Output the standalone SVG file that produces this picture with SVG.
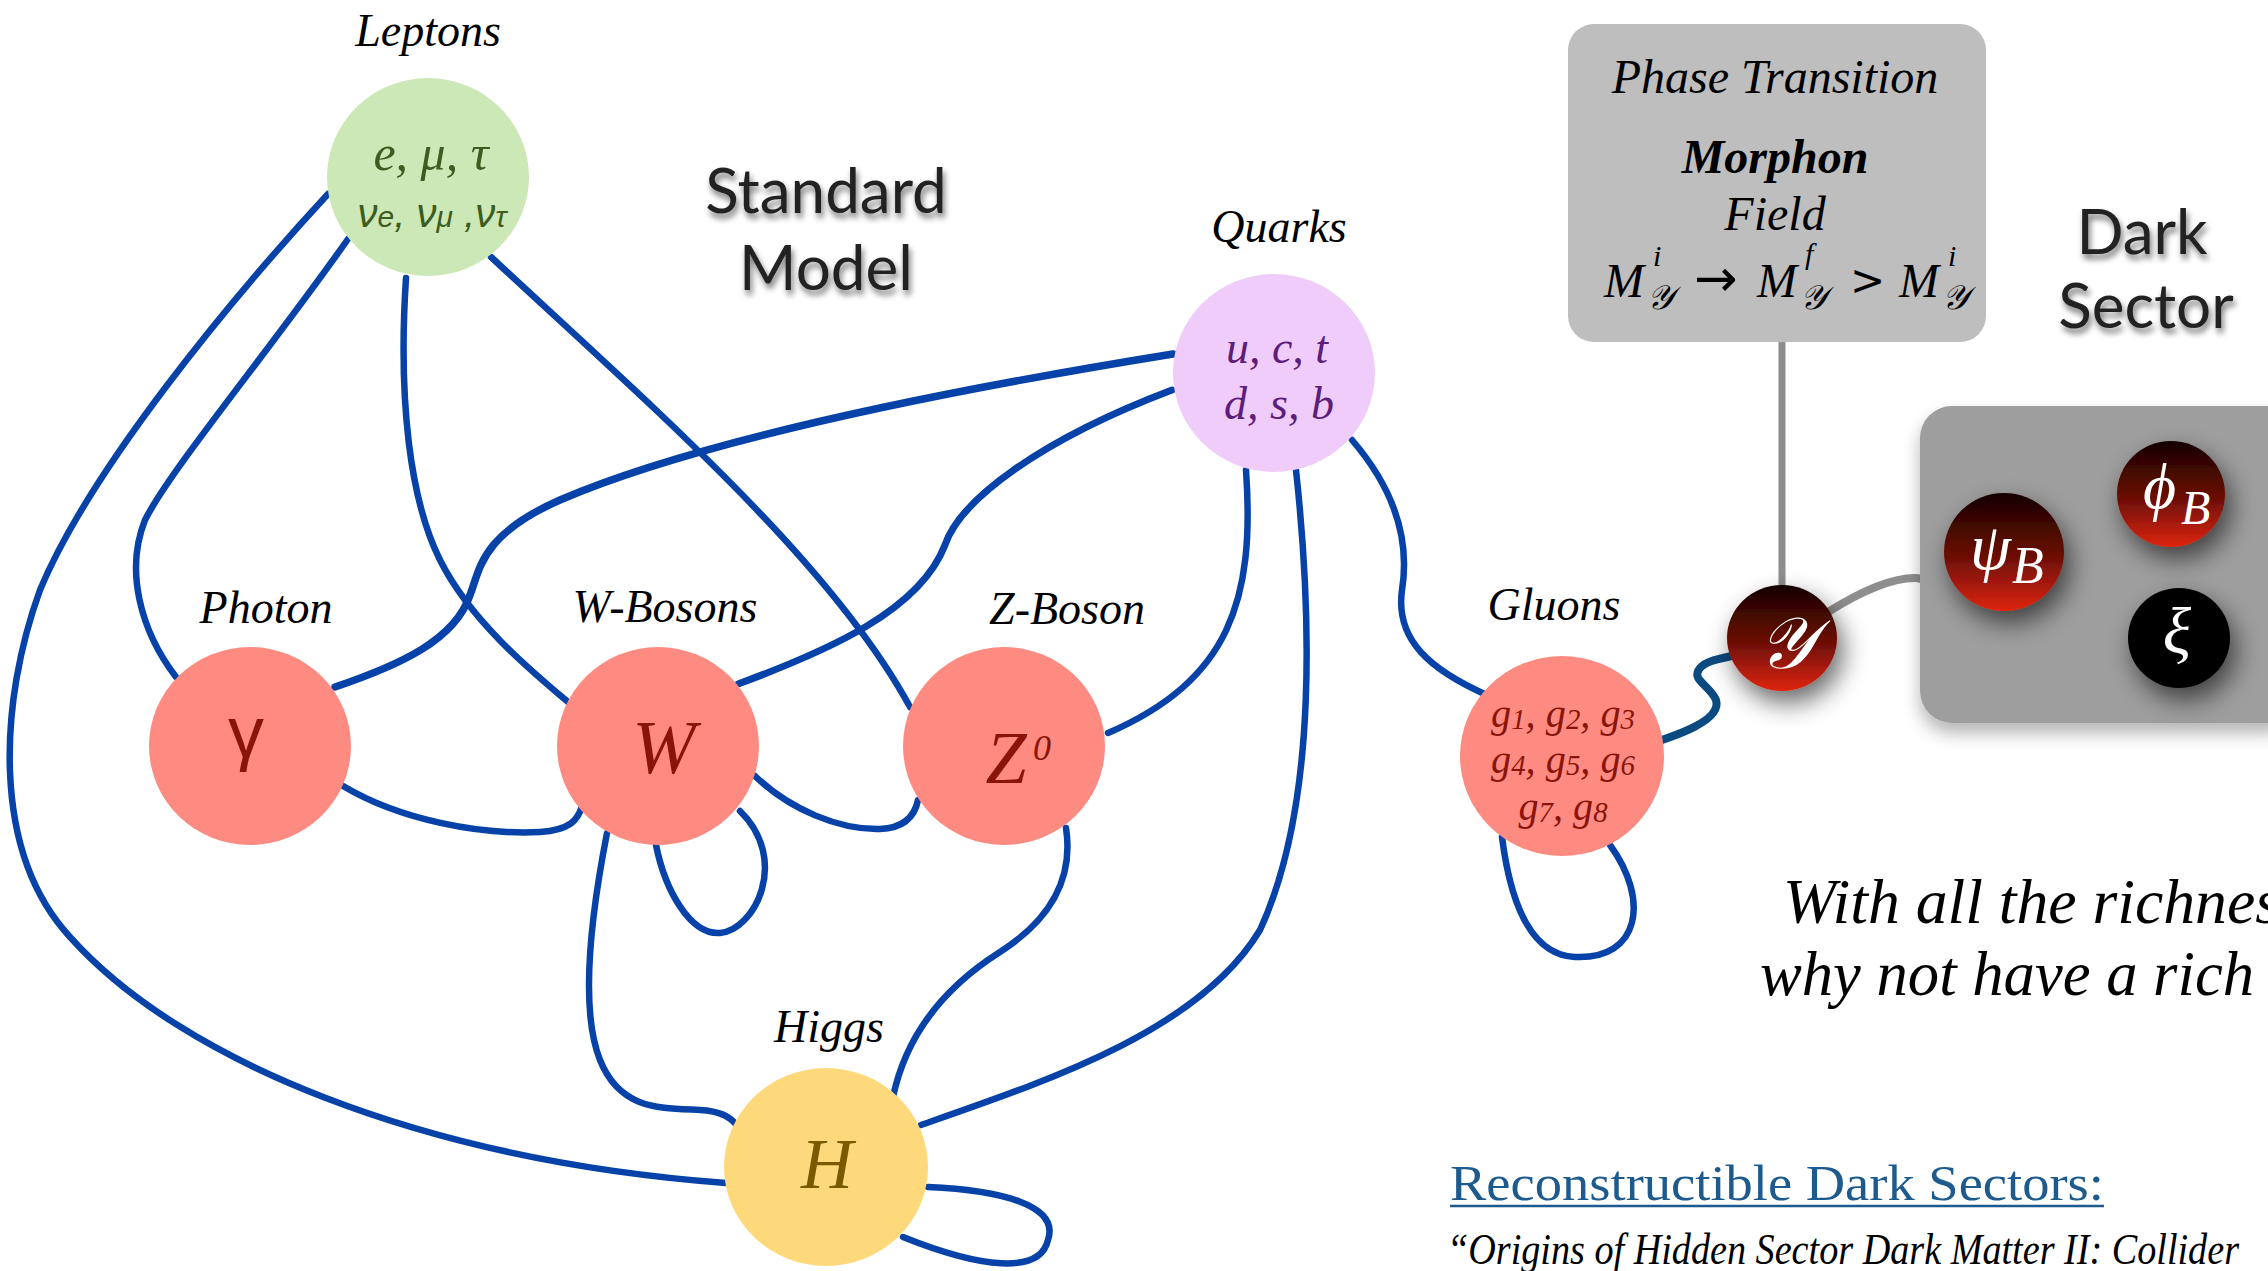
<svg xmlns="http://www.w3.org/2000/svg" width="2268" height="1271" viewBox="0 0 2268 1271">
  <style>
    .lbl { font-family: "Liberation Serif", serif; font-style: italic; font-size: 46px; fill: #000; text-anchor: middle; }
    .conn { fill: none; stroke: #0642a8; stroke-width: 6.5; stroke-linecap: round; stroke-linejoin: round; }
    .grey { fill: none; stroke: #8e8e8e; stroke-linecap: round; }
    .boson { fill: #fd8b82; }
    .bt { font-family: "Liberation Serif", serif; font-style: italic; fill: #8a140a; text-anchor: middle; }
    .title { font-family: Lato, "Open Sans", sans-serif; font-size: 62px; fill: #222; text-anchor: middle; filter: url(#tshadow); }
    .ph { font-family: "Liberation Serif", serif; font-style: italic; font-size: 48px; fill: #000; text-anchor: middle; }
    .mth { font-family: "Liberation Serif", "DejaVu Serif", serif; font-style: italic; fill: #000; }
    .op { font-family: "DejaVu Sans", sans-serif; font-style: normal; }
    .dk { font-family: "Liberation Serif", "DejaVu Serif", serif; font-style: italic; fill: #fff; }
    .note { font-family: "Liberation Serif", serif; font-style: italic; fill: #000; }
  </style>
  <defs>
    <linearGradient id="darkRed" x1="0" y1="0" x2="0" y2="1">
      <stop offset="0" stop-color="#140000"/>
      <stop offset="0.55" stop-color="#6e0f06"/>
      <stop offset="1" stop-color="#de2511"/>
    </linearGradient>
    <filter id="tshadow" x="-20%" y="-30%" width="140%" height="170%">
      <feGaussianBlur in="SourceAlpha" stdDeviation="3"/>
      <feOffset dx="2" dy="5" result="b"/>
      <feComponentTransfer><feFuncA type="linear" slope="0.55"/></feComponentTransfer>
      <feMerge><feMergeNode/><feMergeNode in="SourceGraphic"/></feMerge>
    </filter>
    <filter id="nshadow" x="-60%" y="-60%" width="220%" height="220%">
      <feGaussianBlur in="SourceAlpha" stdDeviation="13"/>
      <feOffset dx="6" dy="12" result="b"/>
      <feComponentTransfer><feFuncA type="linear" slope="0.6"/></feComponentTransfer>
      <feMerge><feMergeNode/><feMergeNode in="SourceGraphic"/></feMerge>
    </filter>
    <filter id="bshadow" x="-10%" y="-10%" width="120%" height="130%">
      <feGaussianBlur in="SourceAlpha" stdDeviation="9"/>
      <feOffset dx="0" dy="10" result="b"/>
      <feComponentTransfer><feFuncA type="linear" slope="0.3"/></feComponentTransfer>
      <feMerge><feMergeNode/><feMergeNode in="SourceGraphic"/></feMerge>
    </filter>
  </defs>

  <rect width="2268" height="1271" fill="#fff"/>

  <!-- section titles -->
  <text class="title" x="826" y="213">Standard</text>
  <text class="title" x="826" y="290">Model</text>
  <text class="title" x="2142" y="254">Dark</text>
  <text class="title" x="2146" y="328">Sector</text>

  <!-- connectors -->
  <g id="connectors">
    <path class="conn" d="M328,194 C230,300 90,470 40,590 C0,700 -10,850 70,937 C180,1060 420,1160 726,1183"/>
    <path class="conn" d="M348,239 C270,350 170,470 145,520 C125,570 140,630 176,677"/>
    <path class="conn" d="M406,278 C398,400 410,500 440,560 C470,620 530,670 568,702"/>
    <path class="conn" d="M491,257 C650,405 830,560 910,707"/>
    <path class="conn" style="stroke-width:7.5" d="M1173,354 C950,390 700,440 560,500 C480,535 480,570 470,595 C455,640 400,665 335,687"/>
    <path class="conn" style="stroke-width:7" d="M1172,390 C1040,440 960,500 945,545 C920,610 830,650 738,684"/>
    <path class="conn" d="M1246,470 C1255,600 1230,680 1108,733"/>
    <path class="conn" d="M1296,470 C1310,600 1320,800 1260,930 C1200,1030 1050,1080 921,1125"/>
    <path class="conn" d="M1352,440 C1395,490 1410,540 1402,590 C1395,640 1430,670 1489,696"/>
    <path class="conn" d="M343,786 C400,820 480,835 540,832 C570,830 578,820 582,806"/>
    <path class="conn" d="M755,776 C790,810 840,830 880,829 C905,828 915,815 918,800"/>
    <path class="conn" d="M656,845 C665,890 690,935 720,933 C755,930 790,860 740,811"/>
    <path class="conn" d="M607,833 C590,920 580,1010 600,1060 C620,1110 660,1108 700,1110 C720,1111 732,1118 737,1126"/>
    <path class="conn" d="M1066,828 C1074,880 1050,920 1000,952 C940,990 905,1040 893,1097"/>
    <path class="conn" d="M928,1187 C1000,1190 1060,1205 1048,1240 C1040,1275 980,1268 903,1237"/>
    <path class="conn" d="M1502,837 C1510,900 1530,955 1575,957 C1640,960 1650,900 1610,845"/>
    <path class="conn" style="stroke:#0b4a80;stroke-width:8" d="M1637,748 C1680,735 1722,720 1716,700 C1710,685 1690,680 1700,668 C1706,661 1718,659 1732,656"/>
    <path class="grey" style="stroke-width:7" d="M1782,343 L1782,586"/>
    <path class="grey" style="stroke-width:8" d="M1828,612 C1860,592 1890,578 1915,578 C1925,578 1928,585 1928,590"/>
  </g>

  <!-- standard model nodes -->
  <g id="leptons">
    <ellipse cx="428" cy="177" rx="101" ry="99" fill="#cce8b6"/>
    <text class="lbl" x="428" y="46">Leptons</text>
    <text x="431" y="170" text-anchor="middle" font-family="Liberation Serif, serif" font-style="italic" font-size="50" fill="#3d5c1f">e, μ, τ</text>
    <text x="432" y="227" text-anchor="middle" font-family="Liberation Sans, sans-serif" font-style="italic" font-size="40" fill="#3d5c1f">ν<tspan font-size="30">e</tspan>, ν<tspan font-size="30">μ</tspan> ,ν<tspan font-size="30">τ</tspan></text>
  </g>
  <g id="quarks">
    <ellipse cx="1274" cy="373" rx="101" ry="99" fill="#f0ccfb"/>
    <text class="lbl" x="1279" y="242">Quarks</text>
    <text x="1277" y="363" text-anchor="middle" font-family="Liberation Serif, serif" font-style="italic" font-size="46" fill="#5c1e7a">u, c, t</text>
    <text x="1279" y="419" text-anchor="middle" font-family="Liberation Serif, serif" font-style="italic" font-size="46" fill="#5c1e7a">d, s, b</text>
  </g>
  <g id="photon">
    <ellipse class="boson" cx="250" cy="746" rx="101" ry="99"/>
    <text class="lbl" x="266" y="623">Photon</text>
    <text x="246" y="757" text-anchor="middle" font-family="Liberation Sans, sans-serif" font-size="72" fill="#8a140a">γ</text>
  </g>
  <g id="w-bosons">
    <ellipse class="boson" cx="658" cy="746" rx="101" ry="99"/>
    <text class="lbl" x="665" y="622">W-Bosons</text>
    <text class="bt" x="664" y="773" font-size="76">W</text>
  </g>
  <g id="z-boson">
    <ellipse class="boson" cx="1004" cy="746" rx="101" ry="99"/>
    <text class="lbl" x="1067" y="624">Z-Boson</text>
    <text class="bt" x="1006" y="783" font-size="74">Z</text>
    <text class="bt" x="1042" y="760" font-size="36">0</text>
  </g>
  <g id="gluons">
    <ellipse class="boson" cx="1562" cy="756" rx="102" ry="100"/>
    <text class="lbl" x="1554" y="620">Gluons</text>
    <text class="bt" x="1563" y="727" font-size="42" textLength="144" lengthAdjust="spacingAndGlyphs">g<tspan font-size="30" dy="2">1</tspan><tspan dy="-2">, g</tspan><tspan font-size="30" dy="2">2</tspan><tspan dy="-2">, g</tspan><tspan font-size="30" dy="2">3</tspan></text>
    <text class="bt" x="1563" y="773" font-size="42" textLength="144" lengthAdjust="spacingAndGlyphs">g<tspan font-size="30" dy="2">4</tspan><tspan dy="-2">, g</tspan><tspan font-size="30" dy="2">5</tspan><tspan dy="-2">, g</tspan><tspan font-size="30" dy="2">6</tspan></text>
    <text class="bt" x="1563" y="820" font-size="42" textLength="89" lengthAdjust="spacingAndGlyphs">g<tspan font-size="30" dy="2">7</tspan><tspan dy="-2">, g</tspan><tspan font-size="30" dy="2">8</tspan></text>
  </g>
  <g id="higgs">
    <ellipse cx="826" cy="1167" rx="102" ry="99" fill="#fed97b"/>
    <text class="lbl" x="829" y="1042">Higgs</text>
    <text x="827" y="1188" text-anchor="middle" font-family="Liberation Serif, serif" font-style="italic" font-size="72" fill="#7a5a00">H</text>
  </g>

  <!-- phase transition panel -->
  <g id="phase-transition">
    <rect x="1568" y="24" width="418" height="318" rx="26" fill="#bebebe"/>
    <text class="ph" x="1775" y="93">Phase Transition</text>
    <text class="ph" x="1775" y="173" font-weight="bold">Morphon</text>
    <text class="ph" x="1775" y="230">Field</text>
    <!-- mass relation: M^i_Y -> M^f_Y > M^i_Y -->
    <text class="mth" font-size="48"><tspan x="1604" y="297">M</tspan><tspan x="1653" y="266" font-size="30">i</tspan><tspan x="1647" y="309" font-size="34">𝒴</tspan><tspan class="op" x="1694" y="296" font-size="52">→</tspan><tspan x="1757" y="297">M</tspan><tspan x="1805" y="264" font-size="30">f</tspan><tspan x="1800" y="309" font-size="34">𝒴</tspan><tspan class="op" x="1850" y="295" font-size="42">&gt;</tspan><tspan x="1899" y="297">M</tspan><tspan x="1948" y="266" font-size="30">i</tspan><tspan x="1942" y="309" font-size="34">𝒴</tspan></text>
  </g>

  <!-- dark sector -->
  <g id="dark-sector">
    <rect x="1920" y="406" width="380" height="317" rx="32" fill="#9e9e9e" filter="url(#bshadow)"/>
  </g>
  <g id="morphon-node">
    <ellipse cx="1782" cy="638" rx="55" ry="53" fill="url(#darkRed)" filter="url(#nshadow)"/>
    <text class="dk" x="1786" y="668" font-size="72" text-anchor="middle">𝒴</text>
  </g>
  <g id="psi-b">
    <ellipse cx="2004" cy="552" rx="60" ry="59" fill="url(#darkRed)" filter="url(#nshadow)"/>
    <text class="dk" x="1970" y="569" font-size="66">ψ<tspan x="2012" y="583" font-size="52">B</tspan></text>
  </g>
  <g id="phi-b">
    <ellipse cx="2171" cy="494" rx="54" ry="53" fill="url(#darkRed)" filter="url(#nshadow)"/>
    <text class="dk" x="2143" y="508" font-size="64">ϕ<tspan x="2181" y="524" font-size="48">B</tspan></text>
  </g>
  <g id="xi">
    <ellipse cx="2179" cy="638" rx="51" ry="50" fill="#000" filter="url(#nshadow)"/>
    <text class="dk" x="2177" y="653" font-size="66" text-anchor="middle">ξ</text>
  </g>

  <!-- closing remarks -->
  <text class="note" x="1783" y="923" font-size="64" textLength="497" lengthAdjust="spacingAndGlyphs">With all the richnes</text>
  <text class="note" x="1760" y="995" font-size="64" textLength="494" lengthAdjust="spacingAndGlyphs">why not have a rich</text>
  <text x="1450" y="1200" font-family="Liberation Serif, serif" font-size="50" fill="#1d5a8e" textLength="654" lengthAdjust="spacingAndGlyphs">Reconstructible Dark Sectors:</text>
  <line x1="1450" y1="1206" x2="2104" y2="1206" stroke="#1d5a8e" stroke-width="2.5"/>
  <text class="note" x="1447" y="1264" font-size="45" textLength="792" lengthAdjust="spacingAndGlyphs">“Origins of Hidden Sector Dark Matter II: Collider</text>
</svg>
